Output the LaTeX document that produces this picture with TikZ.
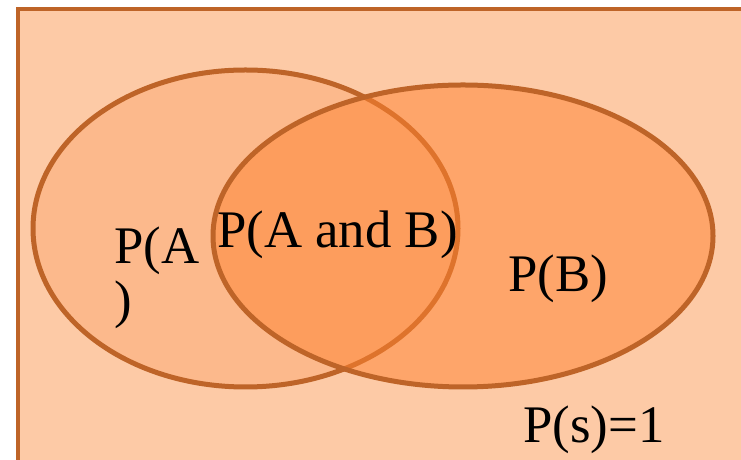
\documentclass[tikz,border=0pt]{standalone}
\usepackage{fontspec}
\setmainfont{Liberation Serif}
\newfontfamily\vennfont{Liberation Serif}
\usepackage{tikz}
\usetikzlibrary{calc, math}

\definecolor{sback}{RGB}{253,202,166}
\definecolor{afill}{RGB}{252,185,140}
\definecolor{bfill}{RGB}{255,130,48}
\definecolor{rim}{RGB}{190,100,40}

\begin{document}
\begin{tikzpicture}[x=1bp, y=1bp,
  rim line/.style={draw=rim, line width=4bp},
  lbl/.style={anchor=base west, inner sep=0pt, font=\vennfont\fontsize{53}{55}\selectfont}]

\tikzmath{
      \ax = 245.5; \ay = 231.5; \arx = 212.5; \ary = 158.5;
      \bx = 463;   \by = 224;   \brx = 250;   \bry = 151;
          }

\useasboundingbox (0,0) rectangle (741,460);
\clip (0,0) rectangle (741,460);

% sample space
\fill[white] (0,0) rectangle (741,460);
\filldraw[fill=sback, rim line] (18,-20) rectangle (780,451);

% event A
\filldraw[fill=afill, rim line, line width=5bp] (\ax,\ay) ellipse [x radius=\arx, y radius=\ary];

% event B over A
\path[fill=bfill, fill opacity=0.5] (\bx,\by) ellipse [x radius=\brx, y radius=\bry];
\draw[rim line, line width=5bp] (\bx,\by) ellipse [x radius=\brx, y radius=\bry];

\node[lbl, align=left] (pa) at (114,142) {P(A\\)};
\node[lbl] (pab) at (217,212) {P(A and B)};
\node[lbl] (pb) at (508,168) {P(B)};
\node[lbl] (ps) at (523,17) {P(s)=1};

\end{tikzpicture}
\end{document}
